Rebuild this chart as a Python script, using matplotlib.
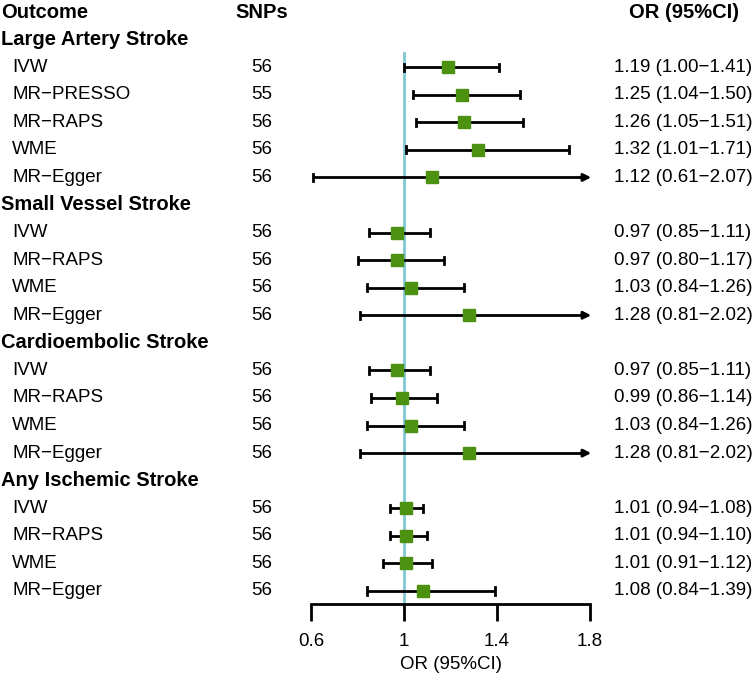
import matplotlib
matplotlib.use("Agg")
import matplotlib.pyplot as plt
import matplotlib.transforms as mtransforms
import numpy as np

plt.rcParams['font.family'] = ['Liberation Sans', 'DejaVu Sans']

groups = ["Large Artery Stroke", "Small Vessel Stroke", "Cardioembolic Stroke", "Any Ischemic Stroke"]
methods = [
    ["IVW", "MR\u2212PRESSO", "MR\u2212RAPS", "WME", "MR\u2212Egger"],
    ["IVW", "MR\u2212RAPS", "WME", "MR\u2212Egger"],
    ["IVW", "MR\u2212RAPS", "WME", "MR\u2212Egger"],
    ["IVW", "MR\u2212RAPS", "WME", "MR\u2212Egger"],
]
snps = [
    [56, 55, 56, 56, 56],
    [56, 56, 56, 56],
    [56, 56, 56, 56],
    [56, 56, 56, 56],
]
or_vals = [
    [1.19, 1.25, 1.26, 1.32, 1.12],
    [0.97, 0.97, 1.03, 1.28],
    [0.97, 0.99, 1.03, 1.28],
    [1.01, 1.01, 1.01, 1.08],
]
lo_vals = [
    [1.00, 1.04, 1.05, 1.01, 0.61],
    [0.85, 0.80, 0.84, 0.81],
    [0.85, 0.86, 0.84, 0.81],
    [0.94, 0.94, 0.91, 0.84],
]
hi_vals = [
    [1.41, 1.50, 1.51, 1.71, 2.07],
    [1.11, 1.17, 1.26, 2.02],
    [1.11, 1.14, 1.26, 2.02],
    [1.08, 1.10, 1.12, 1.39],
]
xticks = [0.6, 1.0, 1.4, 1.8]
xticklabels = ["0.6", "1", "1.4", "1.8"]
xmin, xmax = 0.6, 1.8

W, H = 753, 673
fig = plt.figure(figsize=(W / 100, H / 100), dpi=100)

row0_px = 12.0
row_step = 27.57
axis_px = 604.0
x_left_px, x_right_px = 311.0, 590.0

def fy(px):
    return 1 - px / H

ybot = (axis_px - row0_px) / row_step
ytop = (0 - row0_px) / row_step
ax = fig.add_axes([x_left_px / W, fy(axis_px), (x_right_px - x_left_px) / W, axis_px / H])
ax.set_xlim(xmin, xmax)
ax.set_ylim(ybot, ytop)
for s in ['top', 'right', 'left']:
    ax.spines[s].set_visible(False)
ax.spines['bottom'].set_linewidth(2)
ax.set_yticks([])
ax.set_xticks(xticks)
ax.set_xticklabels(xticklabels, fontsize=13.5)
ax.tick_params(axis='x', length=12, width=2, pad=9)
ax.set_xlabel("OR (95%CI)", fontsize=13.5, labelpad=4)
ax.patch.set_alpha(0)

trans = mtransforms.blended_transform_factory(fig.transFigure, ax.transData)

blue = '#7EC8D3'
green = '#4C9110'
fs = 13.5
fsb = 14.5
cap = 0.13

# headers
ax.text(1 / W, 0, "Outcome", transform=trans, fontsize=fsb, fontweight='bold', ha='left', va='center')
ax.text(262 / W, 0, "SNPs", transform=trans, fontsize=fsb, fontweight='bold', ha='center', va='center')
ax.text(684 / W, 0, "OR (95%CI)", transform=trans, fontsize=fsb, fontweight='bold', ha='center', va='center')

ax.axvline(1.0, ymin=0, ymax=(ybot - 1.5) / (ybot - ytop), color=blue, lw=2, zorder=1)

row = 1
for g, name in enumerate(groups):
    ax.text(1 / W, row, name, transform=trans, fontsize=fsb, fontweight='bold', ha='left', va='center')
    row += 1
    for m in range(len(methods[g])):
        ax.text(12 / W, row, methods[g][m], transform=trans, fontsize=fs, ha='left', va='center')
        ax.text(262 / W, row, str(snps[g][m]), transform=trans, fontsize=fs, ha='center', va='center')
        o, lo, hi = or_vals[g][m], lo_vals[g][m], hi_vals[g][m]
        ax.text(614 / W, row, f"{o:.2f} ({lo:.2f}\u2212{hi:.2f})", transform=trans,
                fontsize=fs, ha='left', va='center')
        l = max(lo, xmin)
        h = min(hi, xmax)
        if hi > xmax:
            ax.plot([l, xmax - 0.02], [row, row], color='black', lw=2, zorder=2, solid_capstyle='butt')
            ax.annotate("", xy=(xmax + 0.005, row), xytext=(xmax - 0.04, row),
                        annotation_clip=False,
                        arrowprops=dict(arrowstyle='-|>', color='black', lw=2,
                                        mutation_scale=11, shrinkA=0, shrinkB=0), zorder=2)
        else:
            ax.plot([l, h], [row, row], color='black', lw=2, zorder=2, solid_capstyle='butt')
            ax.plot([h, h], [row - cap, row + cap], color='black', lw=2, zorder=2)
        ax.plot([l, l], [row - cap, row + cap], color='black', lw=2, zorder=2)
        ax.plot([o], [row], marker='s', markersize=9, color=green, zorder=3, clip_on=False)
        row += 1

fig.savefig("out.png", dpi=100)
